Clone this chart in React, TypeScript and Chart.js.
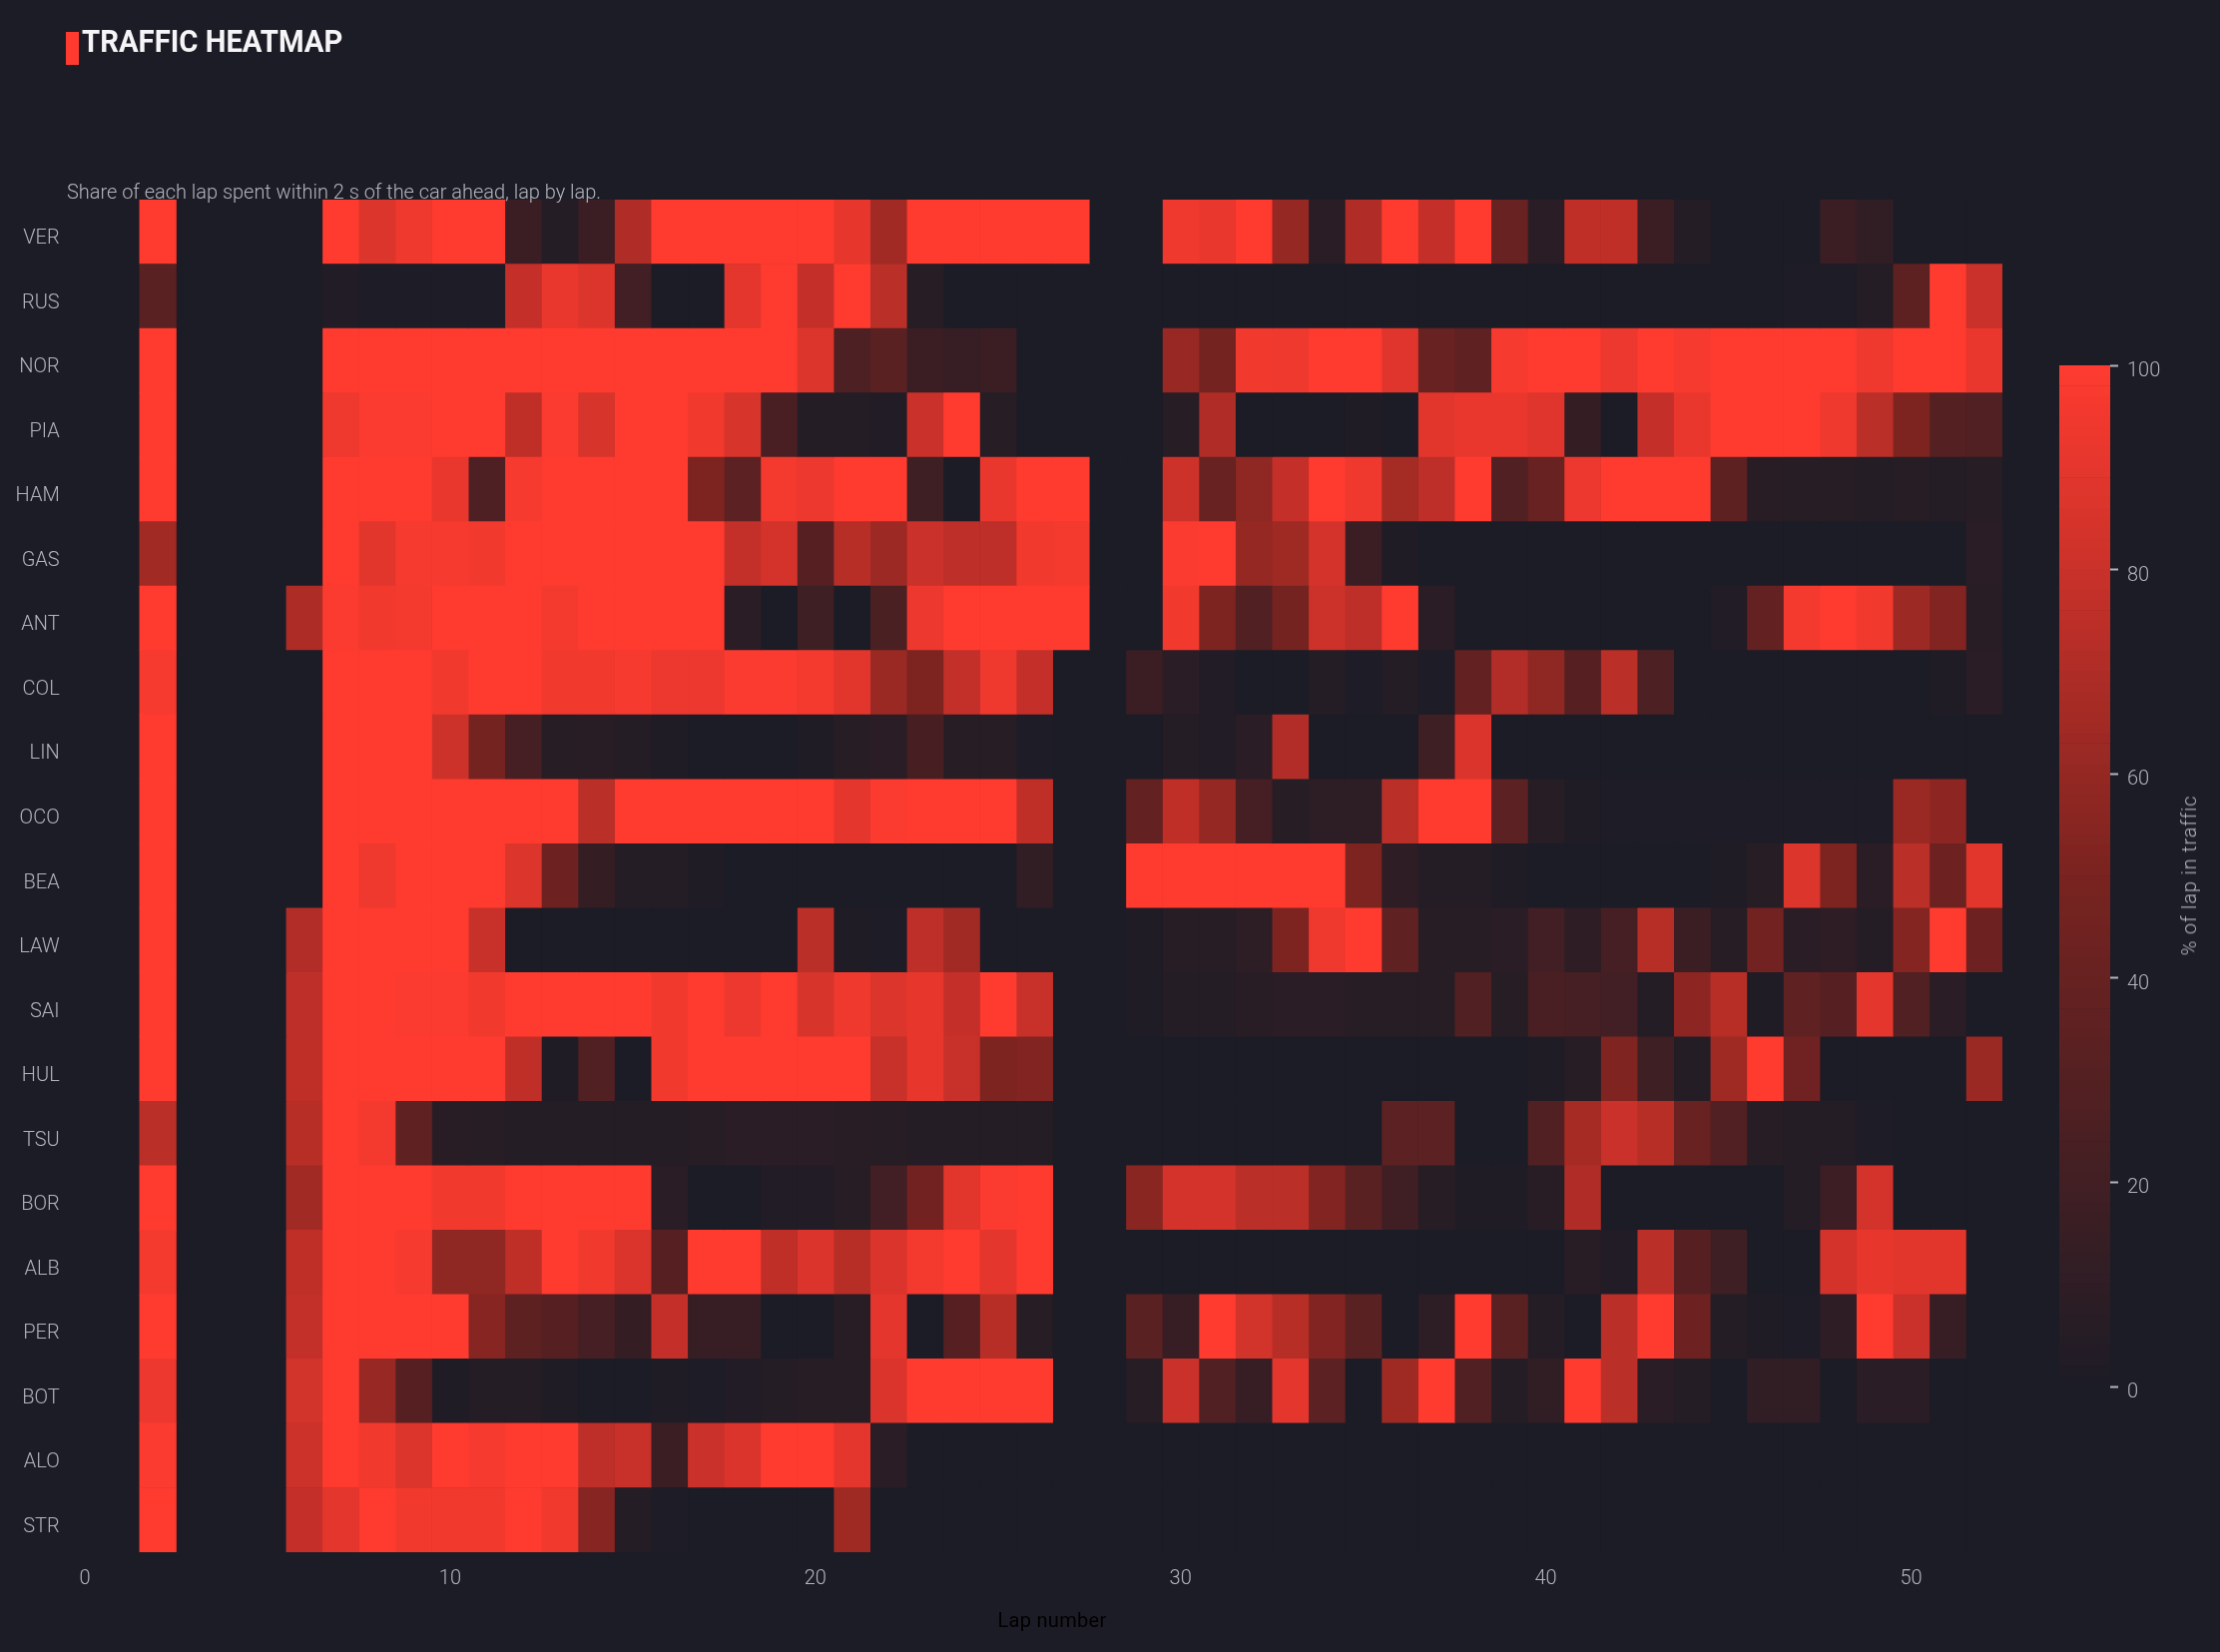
import { useEffect, useRef } from "react";
import { Chart, registerables } from "chart.js";

Chart.register(...registerables);

const BG = "#1c1c26";
const TICK = "#b4b4bd";
const FONT = "Roboto, sans-serif";

const drivers = ["VER","RUS","NOR","PIA","HAM","GAS","ANT","COL","LIN","OCO","BEA","LAW","SAI","HUL","TSU","BOR","ALB","PER","BOT","ALO","STR"];
const laps = [2,3,4,5,6,7,8,9,10,11,12,13,14,15,16,17,18,19,20,21,22,23,24,25,26,27,28,29,30,31,32,33,34,35,36,37,38,39,40,41,42,43,44,45,46,47,48,49,50,51,52];

// Each list starts at lap 2 and runs to lap 52.
const VER = [100,0,0,0,0,100,87,94,100,100,16,4,16,70,100,100,100,100,100,91,65,100,100,100,100,100,0,0,94,92,100,60,8,70,100,78,100,40,8,76,76,16,5,0,0,0,16,11,0,0,0];
const RUS = [33,0,0,0,0,3,1,1,1,1,78,92,87,20,0,0,90,100,78,100,74,6,0,0,0,0,0,0,0,0,0,0,0,0,0,0,0,0,0,0,0,0,0,0,0,1,1,5,35,100,80];
const NOR = [100,0,0,0,0,100,100,100,100,100,100,100,100,100,100,100,100,100,87,26,33,16,14,16,0,0,0,0,61,47,95,94,100,100,88,40,36,97,100,100,93,100,97,100,100,100,100,94,100,100,92];
const PIA = [100,0,0,0,0,94,99,99,100,100,76,99,85,100,100,95,85,24,5,4,3,80,100,6,0,0,0,0,6,70,0,0,0,2,0,89,92,92,88,13,0,78,92,100,100,100,94,74,51,30,28];
const HAM = [100,0,0,0,0,100,100,100,92,27,97,100,100,100,100,51,34,96,93,100,100,18,0,92,100,100,0,0,81,40,58,78,100,94,66,75,100,28,40,93,100,100,100,35,7,6,6,5,6,5,6];
const GAS = [65,0,0,0,0,100,89,97,97,95,100,100,100,100,100,100,77,84,31,73,63,80,75,75,95,96,0,0,99,100,60,64,84,16,2,0,0,0,0,0,0,0,0,0,0,0,0,0,0,0,8];
const ANT = [100,0,0,0,69,99,95,96,100,100,100,96,100,100,100,100,8,0,18,0,25,93,100,100,100,100,0,0,95,51,28,47,81,75,100,8,0,0,0,0,0,0,0,3,38,96,100,95,63,53,7];
const COL = [97,0,0,0,0,100,100,100,95,100,100,95,95,97,93,93,99,99,96,89,62,51,77,94,78,0,0,16,8,3,0,0,5,1,4,1,38,71,58,31,74,26,0,0,0,0,0,0,0,2,8];
const LIN = [100,0,0,0,0,100,100,100,81,47,22,6,7,5,2,0,0,0,2,6,8,23,6,6,1,0,0,0,5,3,8,71,0,0,0,18,86,0,0,0,0,0,0,0,0,0,0,0,0,0,0];
const OCO = [100,0,0,0,0,100,100,100,100,100,100,100,74,100,100,100,100,100,100,90,99,100,100,100,76,0,0,38,76,60,22,6,9,9,74,100,100,34,6,2,1,1,1,1,1,1,1,1,62,57,0];
const BEA = [100,0,0,0,0,100,94,100,100,100,87,43,13,5,5,2,0,0,0,0,0,0,0,0,11,0,0,100,100,100,100,100,100,51,10,5,5,2,0,0,0,0,0,2,6,87,51,8,74,43,89];
const LAW = [100,0,0,0,71,100,100,100,100,79,0,0,0,0,0,0,0,0,74,2,1,75,65,0,0,0,0,2,6,6,9,51,94,100,36,6,6,8,20,10,22,73,16,6,46,8,10,5,54,100,43];
const SAI = [100,0,0,0,75,100,100,99,99,95,100,100,100,100,95,100,93,100,85,94,87,91,78,100,79,0,0,2,5,5,7,8,8,6,6,6,28,6,24,22,20,4,57,73,2,36,31,90,28,8,0];
const HUL = [100,0,0,0,76,100,100,100,100,100,76,2,28,0,95,100,100,100,100,100,79,91,79,51,53,0,0,0,0,0,0,0,0,0,0,0,0,0,2,6,52,18,4,64,100,44,0,0,0,0,62];
const TSU = [74,0,0,0,73,100,96,36,7,6,4,4,4,4,5,6,8,8,8,7,6,5,5,5,5,0,0,0,0,0,0,0,0,0,34,34,0,0,28,67,80,73,40,28,6,4,4,1,0,0,0];
const BOR = [100,0,0,0,65,100,100,100,95,95,100,100,100,100,8,0,0,3,3,6,20,46,89,99,100,0,0,56,84,84,74,74,53,33,19,6,2,2,7,70,0,0,0,0,0,4,17,84,0,0,0];
const ALB = [96,0,0,0,76,100,100,97,58,58,76,100,95,86,31,100,100,76,86,73,86,96,100,90,100,0,0,0,0,0,0,0,0,0,0,0,0,0,0,7,3,74,31,18,0,0,84,91,89,89,0];
const PER = [100,0,0,0,77,100,100,100,100,55,35,31,22,13,78,14,14,0,0,7,90,0,31,73,6,0,0,33,14,100,83,73,53,33,0,9,100,33,5,0,74,100,43,5,2,1,10,100,80,14,0];
const BOT = [93,0,0,0,83,100,61,31,2,5,5,2,0,0,2,1,3,5,6,6,86,100,100,100,100,0,0,6,80,28,14,90,34,0,64,100,28,5,11,100,74,8,5,0,11,11,0,8,8,0,0];
const ALO = [99,0,0,0,81,100,95,87,100,97,100,100,75,79,16,80,86,100,100,90,8,0,0,0,0,0,0,0,0,0,0,0,0,0,0,0,0,0,0,0,0,0,0,0,0,0,0,0,0,0,0];
const STR = [100,0,0,0,78,90,100,95,95,95,100,95,55,5,1,0,0,0,0,64,0,0,0,0,0,0,0,0,0,0,0,0,0,0,0,0,0,0,0,0,0,0,0,0,0,0,0,0,0,0,0];
const rows = [VER,RUS,NOR,PIA,HAM,GAS,ANT,COL,LIN,OCO,BEA,LAW,SAI,HUL,TSU,BOR,ALB,PER,BOT,ALO,STR];

const xTicks = [0,10,20,30,40,50];
const barTicks = [0,20,40,60,80,100];
const barLevels = Array.from({ length: 100 }, (_, i) => i);

const colorStops: [number, number, number, number][] = [
  [0,28,28,38],[50,122,35,32],[100,255,59,48],
];

function colorFor(v: number) {
  for (let i = 1; i < colorStops.length; i++) {
    const a = colorStops[i - 1], b = colorStops[i];
    if (v <= b[0]) {
      const t = (v - a[0]) / (b[0] - a[0]);
      const c = [1, 2, 3].map((k) => Math.round(a[k] + (b[k] - a[k]) * t));
      return `rgb(${c[0]},${c[1]},${c[2]})`;
    }
  }
  return "rgb(255,59,48)";
}

export default function App() {
  const mainRef = useRef<HTMLCanvasElement>(null);
  const barRef = useRef<HTMLCanvasElement>(null);

  useEffect(() => {
    document.body.style.margin = "0";
    document.body.style.background = BG;
    const tickFont = { family: FONT, size: 20, weight: "300" };

    const main = new Chart(mainRef.current!, {
      type: "bar",
      data: {
        labels: drivers,
        datasets: laps.map((lap, i) => ({
          label: String(lap),
          data: rows.map((r) => [lap - 0.5, lap + 0.5]),
          backgroundColor: rows.map((r) => colorFor(r[i])),
          borderWidth: 0,
          barPercentage: 1,
          categoryPercentage: 1,
          grouped: false,
        })),
      } as any,
      options: {
        indexAxis: "y",
        animation: false,
        responsive: false,
        devicePixelRatio: 1,
        layout: { padding: { top: 200, right: 218, bottom: 0, left: 0 } },
        plugins: { legend: { display: false }, tooltip: { enabled: false }, title: { display: false } },
        scales: {
          x: {
            type: "linear",
            min: -0.5,
            max: 52.5,
            afterBuildTicks: (s: any) => { s.ticks = xTicks.map((value) => ({ value })); },
            afterFit: (s: any) => { s.height = 100; },
            grid: { display: false, drawTicks: false },
            border: { display: false },
            ticks: { color: TICK, font: tickFont, padding: 15, maxRotation: 0 },
          },
          y: {
            type: "category",
            afterFit: (s: any) => { s.width = 66.7; },
            grid: { display: false, drawTicks: false },
            border: { display: false },
            ticks: { color: TICK, font: tickFont, padding: 7, labelOffset: 7 },
          },
        },
      } as any,
    });

    const bar = new Chart(barRef.current!, {
      type: "bar",
      data: {
        labels: ["scale"],
        datasets: barLevels.map((v) => ({
          label: String(v),
          data: [[v, v + 1]],
          backgroundColor: colorFor(v + 0.5),
          borderWidth: 0,
          barPercentage: 1,
          categoryPercentage: 1,
          grouped: false,
        })),
      } as any,
      options: {
        animation: false,
        responsive: false,
        devicePixelRatio: 1,
        layout: { padding: { top: 366, right: 0, bottom: 266, left: 23 } },
        plugins: { legend: { display: false }, tooltip: { enabled: false }, title: { display: false } },
        scales: {
          x: { type: "category", display: false },
          y: {
            type: "linear",
            position: "right",
            min: 0,
            max: 100,
            afterBuildTicks: (s: any) => { s.ticks = barTicks.map((value) => ({ value })); },
            afterFit: (s: any) => { s.width = 110; },
            grid: { drawOnChartArea: false, drawTicks: true, tickLength: 8, tickWidth: 2, tickColor: TICK },
            border: { display: false },
            ticks: { color: TICK, font: tickFont, padding: 9, labelOffset: 6 },
          },
        },
      } as any,
    });

    return () => { main.destroy(); bar.destroy(); };
  }, []);

  const text = (extra: React.CSSProperties): React.CSSProperties => ({
    position: "absolute",
    fontFamily: FONT,
    fontSize: 20,
    fontWeight: 300,
    lineHeight: 1,
    whiteSpace: "nowrap",
    color: TICK,
    ...extra,
  });

  return (
    <div style={{ position: "absolute", left: 0, top: 0, width: 2224, height: 1655, background: BG, overflow: "hidden" }}>
      <canvas ref={mainRef} width={2224} height={1655} style={{ position: "absolute", left: 0, top: 0 }} />
      <canvas ref={barRef} width={184} height={1655} style={{ position: "absolute", left: 2040, top: 0 }} />
      <div style={{ position: "absolute", left: 66, top: 32, width: 13, height: 33, background: "#ff3b30" }} />
      <div style={text({ left: 82, top: 25, fontSize: 32, fontWeight: 700, color: "#f5f5f7", transform: "scaleX(0.915)", transformOrigin: "left center" })}>TRAFFIC HEATMAP</div>
      <div style={text({ left: 67, top: 182, letterSpacing: "-0.03px" })}>Share of each lap spent within 2 s of the car ahead, lap by lap.</div>
      <div style={text({ left: 1054, top: 1613, color: "#000000", fontWeight: 400, letterSpacing: "0.3px", transform: "translateX(-50%)" })}>Lap number</div>
      <div style={text({ left: 2193, top: 877, letterSpacing: "0.8px", transform: "translate(-50%,-50%) rotate(-90deg)" })}>% of lap in traffic</div>
    </div>
  );
}
